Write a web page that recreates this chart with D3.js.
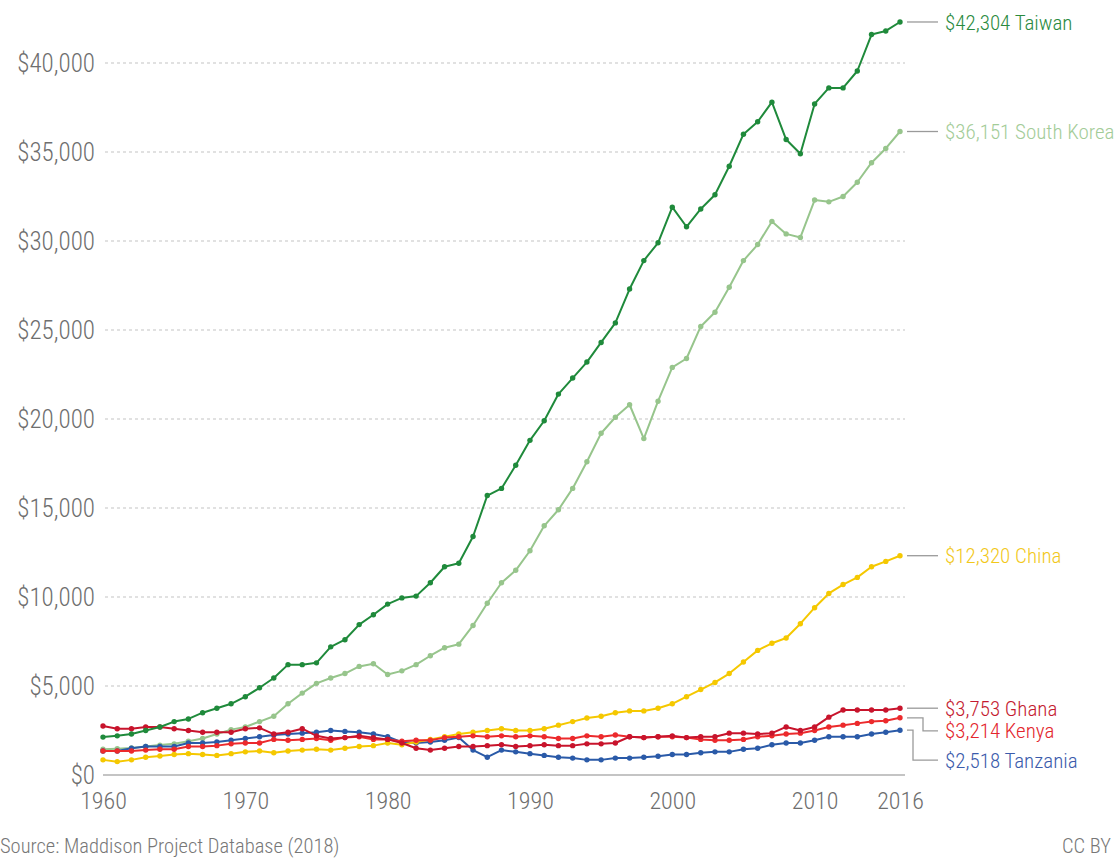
<!DOCTYPE html>
<html>
<head>
<meta charset="utf-8">
<script src="https://cdn.jsdelivr.net/npm/d3@7"></script>
<style>
    body { margin: 0; background: #fff; }
    svg text { font-family: "Liberation Sans Narrow", "Arial Narrow", "Roboto Condensed", "Liberation Sans", sans-serif; font-weight: 300; }
</style>
</head>
<body>
<div id="chart"></div>
<script>
// GDP per capita (2011 US$), Maddison Project Database 2018
var years = d3.range(1960, 2017);

var taiwan = [2130, 2200, 2300, 2500, 2700, 3000, 3150, 3500, 3750, 4000,
    4400, 4900, 5450, 6200, 6200, 6300, 7200, 7600, 8450, 9000,
    9600, 9950, 10050, 10800, 11700, 11900, 13400, 15700, 16100, 17400,
    18800, 19900, 21400, 22300, 23200, 24300, 25400, 27300, 28900, 29900,
    31900, 30800, 31800, 32600, 34200, 36000, 36700, 37800, 35700, 34900,
    37700, 38600, 38600, 39550, 41600, 41800, 42304];

var southKorea = [1450, 1480, 1520, 1600, 1680, 1750, 1900, 2050, 2300, 2550,
    2700, 3000, 3300, 4000, 4600, 5150, 5450, 5700, 6100, 6250,
    5650, 5850, 6200, 6700, 7150, 7350, 8400, 9650, 10800, 11500,
    12600, 14000, 14900, 16100, 17600, 19200, 20100, 20800, 18900, 21000,
    22900, 23400, 25200, 26000, 27400, 28900, 29800, 31100, 30400, 30200,
    32300, 32200, 32500, 33300, 34400, 35200, 36151];

var china = [850, 750, 850, 1000, 1070, 1150, 1200, 1150, 1100, 1200,
    1300, 1350, 1250, 1350, 1400, 1450, 1400, 1500, 1600, 1650,
    1800, 1700, 1850, 2000, 2150, 2300, 2400, 2500, 2600, 2500,
    2500, 2600, 2800, 3000, 3200, 3300, 3500, 3600, 3600, 3750,
    4000, 4400, 4800, 5200, 5700, 6350, 7000, 7400, 7700, 8500,
    9400, 10200, 10700, 11100, 11700, 12000, 12320];

var ghana = [2750, 2600, 2600, 2700, 2700, 2600, 2500, 2400, 2400, 2400,
    2600, 2650, 2300, 2400, 2600, 2200, 2050, 2100, 2200, 2100,
    2000, 1800, 1500, 1400, 1500, 1600, 1600, 1650, 1700, 1600,
    1650, 1700, 1650, 1650, 1750, 1750, 1800, 2150, 2100, 2150,
    2200, 2100, 2150, 2150, 2350, 2350, 2300, 2350, 2700, 2500,
    2700, 3250, 3650, 3650, 3650, 3650, 3753];

var kenya = [1350, 1350, 1350, 1400, 1450, 1450, 1600, 1600, 1650, 1750,
    1800, 1800, 2000, 1950, 2000, 2050, 1950, 2100, 2150, 2000,
    2000, 1900, 1950, 1950, 2100, 2150, 2200, 2150, 2200, 2150,
    2200, 2150, 2050, 2050, 2200, 2150, 2250, 2150, 2100, 2150,
    2150, 2100, 2000, 1950, 1950, 2000, 2150, 2200, 2300, 2350,
    2500, 2700, 2800, 2900, 3000, 3050, 3214];

var tanzania = [1350, 1350, 1500, 1600, 1600, 1600, 1800, 1800, 1850, 1950,
    2050, 2150, 2250, 2300, 2350, 2400, 2500, 2450, 2400, 2300,
    2150, 1850, 1800, 1850, 1950, 2100, 1400, 1000, 1400, 1300,
    1200, 1100, 1000, 950, 850, 850, 950, 950, 1000, 1050,
    1150, 1150, 1250, 1300, 1300, 1450, 1500, 1700, 1800, 1800,
    1950, 2150, 2150, 2150, 2300, 2400, 2518];

var countries = ["Taiwan", "South Korea", "China", "Ghana", "Kenya", "Tanzania"];
var seriesValues = [taiwan, southKorea, china, ghana, kenya, tanzania];

var yTicks = [0, 5000, 10000, 15000, 20000, 25000, 30000, 35000, 40000];
var xTicks = [1960, 1970, 1980, 1990, 2000, 2010, 2016];

// styles
var lineColors = ["#1f8a3b", "#97c58c", "#f5c800", "#c8142c", "#ec2a2c", "#2a5aa8"];
var textColors = ["#2a8a3e", "#a3cc98", "#f2c81a", "#c41a30", "#e3262c", "#3b5bab"];
var labelShift = [0, 0, 0, 0, 13, 30];
var drawOrder = [1, 5, 2, 4, 3, 0]; // korea at the bottom, taiwan on top

var width = 1120,
    height = 858;

var svg = d3.select("#chart").append("svg")
    .attr("width", width)
    .attr("height", height);

var x = d3.scaleLinear()
    .domain([1960, 2016])
    .range([103, 900]);

var y = d3.scaleLinear()
    .domain([0, 40000])
    .range([775, 63]);

// grid lines
svg.append("g").selectAll("line")
    .data(yTicks.filter(function (d) { return d > 0; }))
    .enter().append("line")
    .attr("x1", 105)
    .attr("x2", 905)
    .attr("y1", function (d) { return y(d); })
    .attr("y2", function (d) { return y(d); })
    .attr("stroke", "#d8d8d8")
    .attr("stroke-width", 1.5)
    .attr("stroke-dasharray", "3,3");

// baseline
svg.append("line")
    .attr("x1", 103)
    .attr("x2", 905)
    .attr("y1", y(0))
    .attr("y2", y(0))
    .attr("stroke", "#c4c4c4")
    .attr("stroke-width", 2);

// y axis (labels only)
var yAxis = d3.axisLeft(y)
    .tickValues(yTicks)
    .tickSize(0)
    .tickPadding(0)
    .tickFormat(function (d) { return "$" + d3.format(",")(d); });

svg.append("g")
    .attr("transform", "translate(95,0)")
    .call(yAxis)
    .call(function (g) {
        g.select(".domain").remove();
        g.selectAll("text")
            .attr("dy", "0.35em")
            .style("font-size", "25px")
            .attr("fill", "#6e6e6e");
    });

// x axis (labels only)
var xAxis = d3.axisBottom(x)
    .tickValues(xTicks)
    .tickSize(0)
    .tickPadding(0)
    .tickFormat(d3.format("d"));

svg.append("g")
    .attr("transform", "translate(0,792)")
    .call(xAxis)
    .call(function (g) {
        g.select(".domain").remove();
        g.selectAll("text")
            .attr("dy", "0.71em")
            .style("font-size", "24px")
            .attr("fill", "#6e6e6e");
    });

var line = d3.line()
    .x(function (d, i) { return x(years[i]); })
    .y(function (d) { return y(d); });

drawOrder.forEach(function (s) {
    var g = svg.append("g").attr("class", "series");

    g.append("path")
        .datum(seriesValues[s])
        .attr("fill", "none")
        .attr("stroke", lineColors[s])
        .attr("stroke-width", 2)
        .attr("stroke-linejoin", "round")
        .attr("d", line);

    g.selectAll("circle")
        .data(seriesValues[s])
        .enter().append("circle")
        .attr("cx", function (d, i) { return x(years[i]); })
        .attr("cy", function (d) { return y(d); })
        .attr("r", 2.7)
        .attr("fill", lineColors[s]);
});

// end labels with connectors
seriesValues.forEach(function (vals, i) {
    var last = vals[vals.length - 1];
    var y0 = y(last),
        y1 = y0 + labelShift[i],
        x0 = x(2016) + 7;
    var elbow = labelShift[i] < 20 ? x0 + 16 : x0 + 6;

    var p = labelShift[i] === 0 ?
        "M" + x0 + "," + y0 + "H" + (x0 + 31) :
        "M" + x0 + "," + y0 + "H" + elbow + "V" + y1 + "H" + (x0 + 31);

    svg.append("path")
        .attr("d", p)
        .attr("fill", "none")
        .attr("stroke", "#9a9a9a")
        .attr("stroke-width", 1.3);

    svg.append("text")
        .attr("x", 945)
        .attr("y", y1)
        .attr("dy", "0.36em")
        .style("font-size", "21px")
        .attr("fill", textColors[i])
        .text("$" + d3.format(",")(last) + " " + countries[i]);
});

// footer
svg.append("text")
    .attr("x", 0)
    .attr("y", 853)
    .style("font-size", "20.5px")
    .attr("fill", "#777")
    .text("Source: Maddison Project Database (2018)");

svg.append("text")
    .attr("x", 1111)
    .attr("y", 853)
    .attr("text-anchor", "end")
    .style("font-size", "20.5px")
    .attr("fill", "#777")
    .text("CC BY");
</script>
</body>
</html>
